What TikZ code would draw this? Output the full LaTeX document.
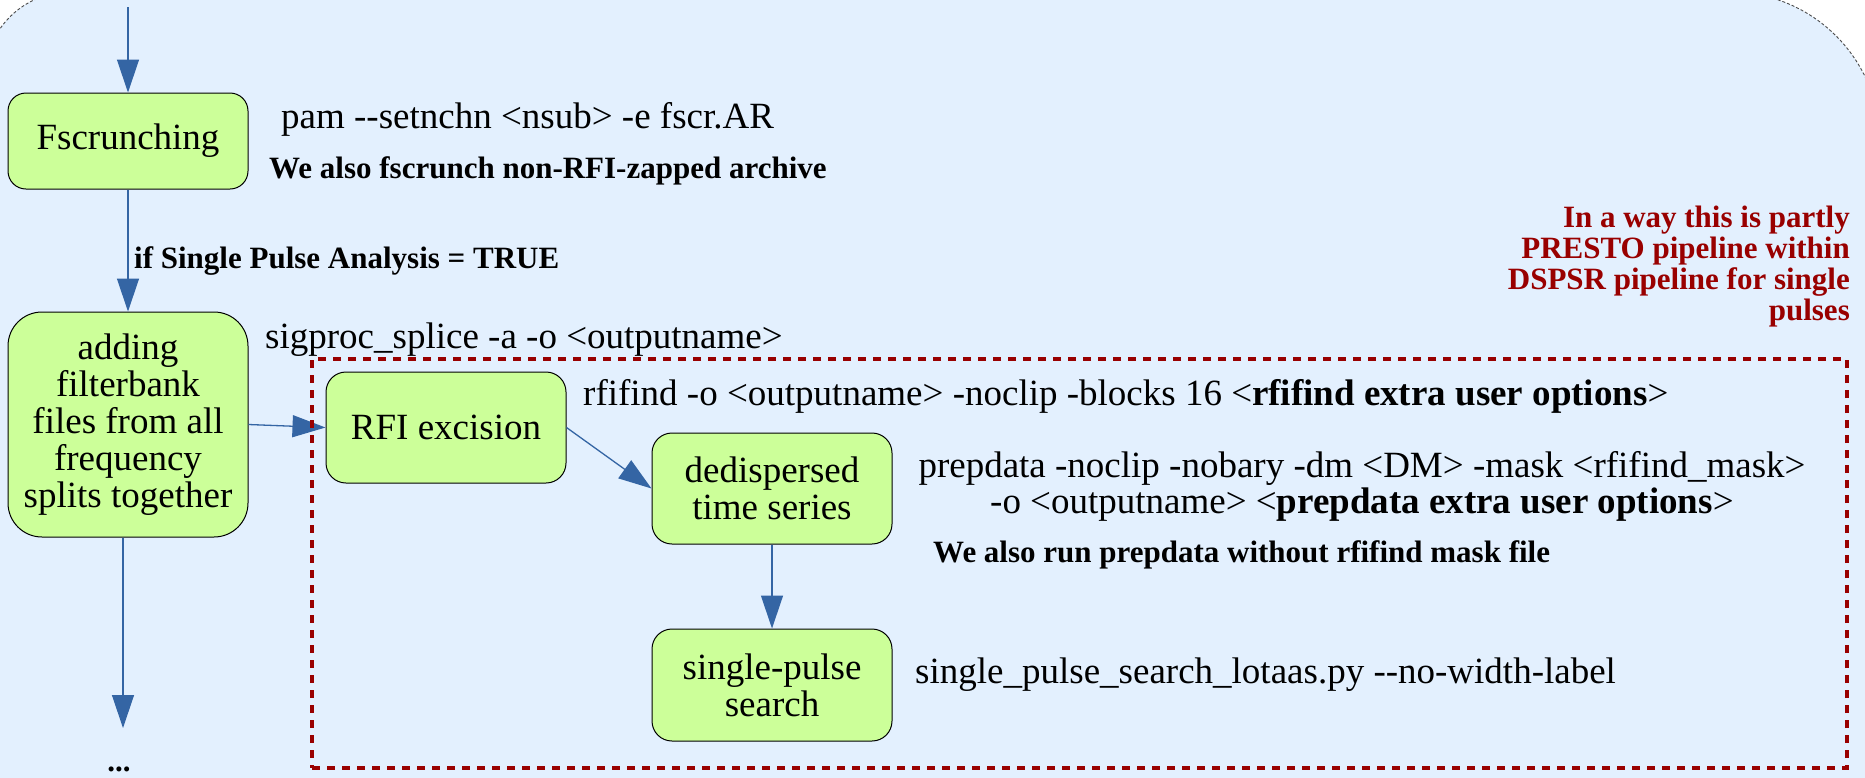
\documentclass[tikz,border=0pt]{standalone}
\usepackage{fontspec}
\setmainfont{Liberation Serif}
\usetikzlibrary{arrows.meta}
\definecolor{bgblue}{RGB}{227,240,254}
\definecolor{nodegreen}{RGB}{204,255,153}
\definecolor{flowblue}{RGB}{52,101,164}
\definecolor{darkred}{RGB}{153,0,0}
\newcommand\regfont{\fontsize{37}{37}\selectfont}
\newcommand\notefont{\fontsize{31}{31}\selectfont\bfseries}

\begin{document}
\begin{tikzpicture}[x=1pt,y=-1pt,
  stepbox/.style={draw=black, line width=1pt, fill=nodegreen, rounded corners=18pt,
    minimum width=240pt, align=center, font=\regfont, inner sep=0pt},
  flow/.style={draw=flowblue, line width=1.3pt, -{Triangle[length=33pt,width=22pt]}},
  cmd/.style={font=\regfont, inner sep=0pt, anchor=base west},
  note/.style={font=\notefont, inner sep=0pt, anchor=base west},
  groupframe/.style={draw=darkred, line width=4pt, dash pattern=on 8pt off 7pt, inner sep=0pt},
]
\useasboundingbox (0,0) rectangle (1865,777);

% light blue backdrop with rounded upper corners
\begin{scope}
  \clip (0,0) rectangle (1865,777);
  \path[fill=bgblue, draw=black!70, line width=0.9pt, dash pattern=on 3pt off 2pt]
    (-15,900) [rounded corners=85pt] -- (-15,-8) -- (900,-8)
    [rounded corners=150pt] -- (1880,-8) -- (1880,900) -- cycle;
\end{scope}

% processing steps
\node[stepbox, minimum height=96pt] (fscr) at (128,141) {Fscrunching};
\node[stepbox, minimum height=225pt, rounded corners=34pt] (add) at (128,424.5)
  {adding\\filterbank\\files from all\\frequency\\splits together};
\node[stepbox, minimum height=111pt, rounded corners=20pt] (rfi) at (446,427.5) {RFI excision};
\node[stepbox, minimum height=111pt, rounded corners=20pt] (dedisp) at (772,488.5)
  {dedispersed\\time series};
\node[stepbox, minimum height=112pt, rounded corners=20pt] (spsearch) at (772,685)
  {single-pulse\\search};

% commands and remarks
\node[cmd] (pamcmd) at (281,128) {pam -{}-setnchn <nsub> -e fscr.AR};
\node[note] (fscrnote) at (269,178) {We also fscrunch non-RFI-zapped archive};
\node[note] (splabel) at (134,268) {if Single Pulse Analysis = TRUE};
\node[cmd] (splicecmd) at (265,348) {sigproc\_splice -a -o <outputname>};
\node[cmd] (rficmd) at (583,405)
  {rfifind -o <outputname> -noclip -blocks 16 <\textbf{rfifind extra user options}>};
\node[font={\fontsize{37}{35}\selectfont}, inner sep=0pt, anchor=base] (prepcmd) at (1362,477)
  {\begin{tabular}[t]{@{}c@{}}prepdata -noclip -nobary -dm <DM> -mask <rfifind\_mask>\\
   -o <outputname> <\textbf{prepdata extra user options}>\end{tabular}};
\node[note] (prepnote) at (933,562) {We also run prepdata without rfifind mask file};
\node[cmd] (spcmd) at (915,683) {single\_pulse\_search\_lotaas.py -{}-no-width-label};
\node[font={\fontsize{31}{31.3}\selectfont\bfseries}, text=darkred, inner sep=0pt, anchor=base east]
  (presto) at (1850,227)
  {\begin{tabular}[t]{@{}r@{}}In a way this is partly\\PRESTO pipeline within\\
   DSPSR pipeline for single\\pulses\end{tabular}};
\node[note, anchor=base] (more) at (119,771) {...};

% connectors
\coordinate (topin) at (128,7);
\coordinate (downout) at (123,728);
\draw[flow] (topin) -- (fscr);
\draw[flow] (fscr) -- (add);
\draw[flow] (add.south -| downout) -- (downout);
\draw[flow] (add.east) -- (rfi.west);
\draw[flow] (rfi.east) -- (dedisp.west);
\draw[flow] (dedisp) -- (spsearch);

% frame around the PRESTO part of the pipeline
\node[groupframe, minimum width=1535pt, minimum height=409pt] (prestogroup) at (1079.5,563.5) {};
\end{tikzpicture}
\end{document}
